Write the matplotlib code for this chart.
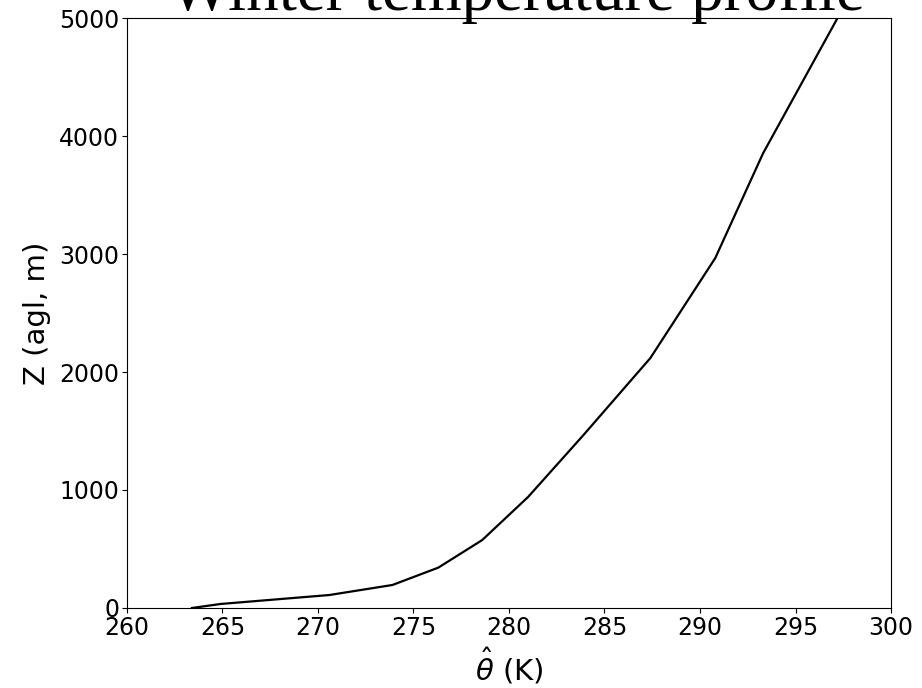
import matplotlib
matplotlib.use("Agg")
import matplotlib.pyplot as plt

# potential temperature profile (K) vs height above ground (m)
theta = [263.4, 264.9, 270.6, 273.9, 276.3, 278.6, 281.0, 283.9, 287.4, 290.8, 293.3, 297.2]
height = [0, 34, 110, 195, 342, 576, 941, 1466, 2118, 2966, 3853, 5000]

fig = plt.figure(figsize=(9.22, 6.88), dpi=100)
ax = fig.add_axes([0.1377, 0.1163, 0.8287, 0.8575])

ax.plot(theta, height, color='black', linewidth=1.6)

ax.set_xlim(260, 300)
ax.set_ylim(0, 5000)
ax.tick_params(labelsize=17, pad=2)
ax.set_xlabel(r'$\hat{\theta}$ (K)', fontsize=21, labelpad=5)
ax.set_ylabel('Z (agl, m)', fontsize=21, labelpad=6)
ax.set_title('Winter temperature profile', fontsize=47,
             family='Liberation Serif', pad=0, x=0.5105, y=1.014)

fig.savefig('out.png', dpi=100)
